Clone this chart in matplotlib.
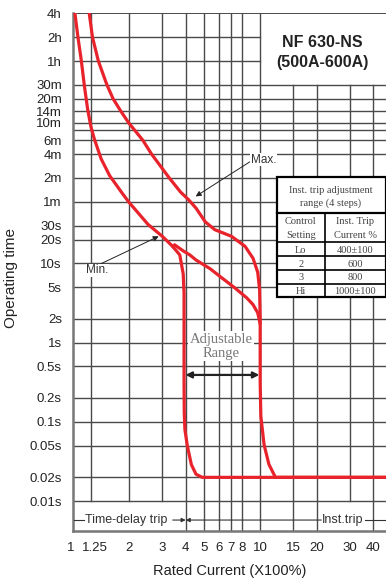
import matplotlib
matplotlib.use("Agg")
import matplotlib.pyplot as plt
from matplotlib.patches import Rectangle
from matplotlib.transforms import ScaledTranslation

plt.rcParams["font.family"] = ["Liberation Sans", "DejaVu Sans"]

# --- axis ticks (x: multiple of rated current, t: seconds) ---
X_TICKS = [1, 1.25, 2, 3, 4, 5, 6, 7, 8, 10, 15, 20, 30, 40]
X_TICK_LABELS = ["1", "1.25", "2", "3", "4", "5", "6", "7", "8", "10", "15", "20", "30", "40"]
Y_TICKS = [0.01, 0.02, 0.05, 0.1, 0.2, 0.5, 1, 2, 5, 10, 20, 30,
           60, 120, 240, 360, 600, 840, 1200, 1800, 3600, 7200, 14400]
Y_TICK_LABELS = ["0.01s", "0.02s", "0.05s", "0.1s", "0.2s", "0.5s", "1s", "2s", "5s",
                 "10s", "20s", "30s", "1m", "2m", "4m", "6m", "10m", "14m", "20m",
                 "30m", "1h", "2h", "4h"]
Y_EXTRA_GRID = [480]  # 8m line, no label

# --- trip curves ---
MAX_X = [1.221, 1.271, 1.366, 1.518, 1.638, 1.80, 1.98, 2.36, 2.63, 3.27, 3.75, 4.13,
         4.54, 5.09, 5.72, 7.03, 8.31, 9.16, 9.70, 9.93, 10.0, 10.0, 10.08, 10.49,
         11.13, 12.06, 48]
MAX_T = [14400, 7200, 3600, 1800, 1200, 840, 600, 360, 240, 120, 80, 64.3,
         50.0, 33.5, 26.7, 22.0, 16.4, 11.6, 7.75, 4.67, 2.0, 0.313, 0.118, 0.0513,
         0.0291, 0.0199, 0.0199]

MIN_X = [1.024, 1.064, 1.108, 1.151, 1.197, 1.246, 1.298, 1.414, 1.571, 1.823, 1.982,
         2.52, 3.0, 3.41, 3.72, 3.88, 3.92, 3.92, 3.93, 3.96, 4.08, 4.29, 4.54, 4.90, 48]
MIN_T = [14400, 7063, 3630, 1727, 892, 536, 378, 209, 128, 78.3, 60,
         31, 22.0, 16.4, 12.8, 7.36, 4.2, 0.3, 0.13, 0.08, 0.05, 0.0288, 0.0218, 0.0199,
         0.0199]

BRANCH_X = [3.41, 3.49, 3.88, 4.21, 4.54, 5.40, 6.20, 7.33, 8.48, 9.16, 9.70, 9.97]
BRANCH_T = [16.4, 17.2, 14.4, 12.8, 11.06, 8.58, 6.65, 4.90, 3.67, 3.02, 2.38, 1.77]

# --- instantaneous trip table ---
TABLE_SETTINGS = ["Lo", "2", "3", "Hi"]
TABLE_CURRENTS = ["400\u00b1100", "600", "800", "1000\u00b1100"]

RED = "#e8232b"
GRID = "#4a4a4a"
XMAX = 47.0
YMIN, YMAX = 0.00424, 14400
BAND_T = 0.00575  # height of the trip-region captions

fig = plt.figure(figsize=(3.86, 5.80), dpi=100)
ax = fig.add_axes([0.1891, 0.0853, 0.8109, 0.8917])
ax.set_xscale("log")
ax.set_yscale("log")
ax.set_xlim(1, XMAX)
ax.set_ylim(YMIN, YMAX)

# grid drawn by hand: the upper right block is left blank for the title
for x in X_TICKS[1:]:
    lo = 0.01 if (x < 4 or x == 30) else YMIN
    hi = YMAX if x <= 10 else 1800
    ax.plot([x, x], [lo, hi], color=GRID, lw=1.0, zorder=1)
for t in Y_TICKS + Y_EXTRA_GRID:
    right = 10 if t in (3600, 7200) else XMAX
    ax.plot([1, right], [t, t], color=GRID, lw=1.0 if t < 14400 else 1.4, zorder=1)

ax.plot(MAX_X, MAX_T, color=RED, lw=2.3, solid_joinstyle="round", zorder=4)
ax.plot(MIN_X, MIN_T, color=RED, lw=2.3, solid_joinstyle="round", zorder=4)
ax.plot(BRANCH_X, BRANCH_T, color=RED, lw=2.3, solid_joinstyle="round", zorder=4)

ax.set_xticks(X_TICKS)
ax.set_xticklabels(X_TICK_LABELS)
ax.set_yticks(Y_TICKS)
ax.set_yticklabels(Y_TICK_LABELS)
ax.minorticks_off()
ax.tick_params(length=0, labelsize=9.5, colors="#222222")
ax.tick_params(axis="x", pad=8)
ax.tick_params(axis="y", pad=8)

# nudge the crowded "1" / "1.25" labels apart
xlabels = ax.get_xticklabels()
for lab, dx in ((xlabels[0], -2 / 72), (xlabels[1], 2.5 / 72)):
    lab.set_transform(lab.get_transform() + ScaledTranslation(dx, 0, fig.dpi_scale_trans))

for side in ("top", "right"):
    ax.spines[side].set_visible(False)
for side in ("left", "bottom"):
    ax.spines[side].set_color("#777777")
    ax.spines[side].set_linewidth(1.8)

ax.set_ylabel("Operating time", fontsize=11, color="#222222")
ax.yaxis.set_label_coords(-0.1757, 0.488)
ax.set_xlabel("Rated Current (X100%)", fontsize=10.5, color="#222222")
ax.xaxis.set_label_coords(0.5016, -0.078)
ax.xaxis.label.set_va("center")

# title block
ax.text(0.7955, 0.9445, "NF 630-NS", transform=ax.transAxes, ha="center", va="center",
        fontsize=11.5, fontweight="bold", color="#222222")
ax.text(0.7955, 0.9058, "(500A-600A)", transform=ax.transAxes, ha="center", va="center",
        fontsize=11.5, fontweight="bold", color="#222222")

# Max. / Min. pointers
arrow_kw = dict(arrowstyle="-|>", color="#222222", lw=0.7, mutation_scale=8,
                shrinkA=0, shrinkB=0)
ax.annotate("Max.", xy=(4.52, 70.2), xytext=(8.88, 205), ha="left", va="center",
            fontsize=8.5, color="#333333", zorder=6,
            bbox=dict(fc="white", ec="none", pad=0.4),
            arrowprops=dict(relpos=(0.0, 0.35), **arrow_kw))
ax.annotate("Min.", xy=(2.87, 22.0), xytext=(1.175, 8.17), ha="left", va="center",
            fontsize=8.5, color="#333333", zorder=6,
            bbox=dict(fc="white", ec="none", pad=0.4),
            arrowprops=dict(relpos=(0.6, 1.0), **arrow_kw))

# adjustable range
ax.text(6.2, 0.906, "Adjustable\nRange", ha="center", va="center", fontsize=10.5,
        family=["Liberation Serif", "DejaVu Serif"], color="#777777", linespacing=1.1,
        zorder=5, bbox=dict(fc="white", ec="none", pad=1.0))
ax.annotate("", xy=(3.99, 0.391), xytext=(9.9, 0.391),
            arrowprops=dict(arrowstyle="<|-|>", color="#222222", lw=1.6,
                            mutation_scale=9, shrinkA=0, shrinkB=0), zorder=5)

# trip region captions in the bottom band
ax.plot([1.01, 1.138], [BAND_T, BAND_T], color="#333333", lw=0.8, zorder=3)
ax.text(1.925, BAND_T, "Time-delay trip", ha="center", va="center", fontsize=9,
        color="#333333", zorder=3)
ax.annotate("", xy=(4.0, BAND_T), xytext=(3.41, BAND_T),
            arrowprops=dict(arrowstyle="-|>", color="#333333", lw=0.8,
                            mutation_scale=6, shrinkA=0, shrinkB=0))
ax.annotate("", xy=(4.0, BAND_T), xytext=(21.2, BAND_T),
            arrowprops=dict(arrowstyle="-|>", color="#333333", lw=0.8,
                            mutation_scale=6, shrinkA=0, shrinkB=0))
ax.text(27.6, BAND_T, "Inst.trip", ha="center", va="center", fontsize=9,
        color="#333333", zorder=3)
ax.plot([36.2, XMAX], [BAND_T, BAND_T], color="#333333", lw=0.8, zorder=3)

# table (axes fraction coordinates)
serif = ["Liberation Serif", "DejaVu Serif"]
tl, tr, tt, tb = 0.651, 1.0, 0.683, 0.451
ax.add_patch(Rectangle((tl, tb), tr - tl, tt - tb, transform=ax.transAxes,
                       fc="white", ec="black", lw=1.6, zorder=5, clip_on=False))
col_div = 0.805
row_lines = [0.6145, 0.5584, 0.5313, 0.5037, 0.4766]
for i, yl in enumerate(row_lines):
    ax.plot([tl, tr], [yl, yl], transform=ax.transAxes, color="black",
            lw=1.6 if i == 0 else 1.2, zorder=6, clip_on=False)
ax.plot([col_div, col_div], [tb, row_lines[0]], transform=ax.transAxes,
        color="black", lw=1.2, zorder=6)

tkw = dict(transform=ax.transAxes, ha="center", va="center", fontsize=7.5,
           family=serif, color="#444444", zorder=7)
ax.text(0.824, 0.6583, "Inst. trip adjustment", **tkw)
ax.text(0.824, 0.6326, "range (4 steps)", **tkw)
ax.text(0.7275, 0.597, "Control", **tkw)
ax.text(0.7275, 0.570, "Setting", **tkw)
ax.text(0.901, 0.597, "Inst. Trip", **tkw)
ax.text(0.901, 0.570, "Current %", **tkw)
row_y = [0.5424, 0.5147, 0.4888, 0.4617]
for yy, setting, current in zip(row_y, TABLE_SETTINGS, TABLE_CURRENTS):
    ax.text(0.7275, yy, setting, **tkw)
    ax.text(0.901, yy, current, **tkw)

fig.savefig("out.png", dpi=100)
